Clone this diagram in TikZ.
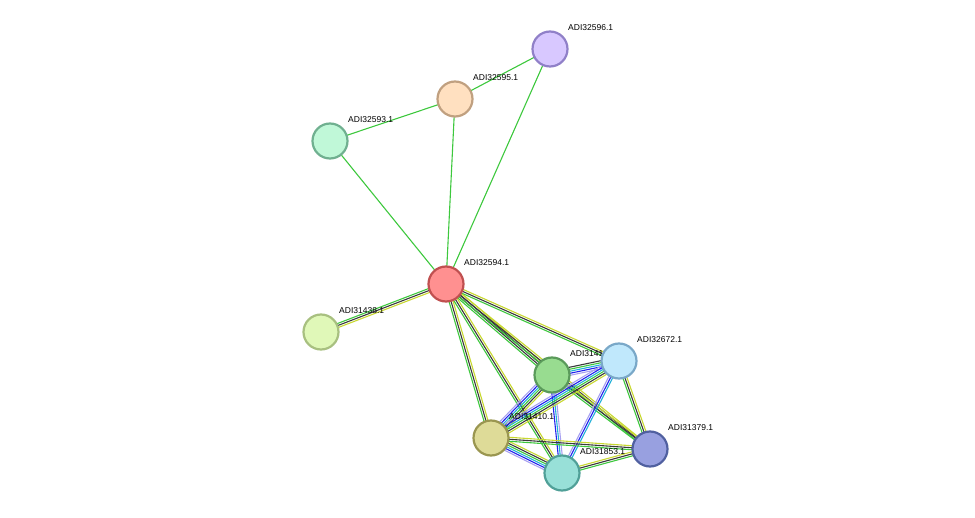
\documentclass[tikz,border=0pt]{standalone}
\usepackage{fontspec}
\setmainfont{Liberation Sans}
\usetikzlibrary{calc}
\definecolor{lgreen}{HTML}{3DC83D}
\definecolor{lyellow}{HTML}{C8D830}
\definecolor{lblack}{HTML}{3A3A3A}
\definecolor{lblue}{HTML}{2222EE}
\definecolor{lcyan}{HTML}{22B0D8}
\definecolor{llilac}{HTML}{A8A0F0}
\newcommand{\sedge}[3]{%
  \foreach \o/\c in {#3}
    \draw[link,\c] ($(#1)!\o pt!90:(#2)$) -- ($(#2)!\o pt!-90:(#1)$);}
\begin{document}
\begin{tikzpicture}[x=1pt,y=-1pt,
    prot/.style={circle, draw, line width=2.2pt, minimum size=35pt, inner sep=0pt},
    link/.style={line width=1.1pt},
    lab/.style={anchor=west, font=\fontsize{8.5pt}{10pt}\selectfont, inner sep=0pt},
  ]
  \useasboundingbox (0,0) rectangle (975,518);

  % Positions
  \coordinate (p596) at (550,49);
  \coordinate (p595) at (455,99);
  \coordinate (p593) at (330,141);
  \coordinate (p594) at (446,284);
  \coordinate (p438) at (321,332);
  \coordinate (p31x) at (552,375);
  \coordinate (p672) at (619,361);
  \coordinate (p410) at (491,438);
  \coordinate (p853) at (562,473);
  \coordinate (p379) at (650,449);

  % Links
  \sedge{p596}{p595}{0/lgreen}
  \sedge{p596}{p594}{0/lgreen}
  \sedge{p595}{p593}{0/lgreen}
  \sedge{p595}{p594}{0/lgreen}
  \sedge{p593}{p594}{0/lgreen}
  \sedge{p594}{p438}{-2/lgreen,0/lblack,2/lyellow}
  \sedge{p594}{p31x}{-3/lgreen,-1/lblack,1/lblack,3/lyellow}
  \sedge{p594}{p672}{-2/lgreen,0/lblack,2/lyellow}
  \sedge{p594}{p379}{-2/lgreen,0/lblack,2/lyellow}
  \sedge{p594}{p410}{-2/lgreen,0/lblack,2/lyellow}
  \sedge{p594}{p853}{-2/lgreen,0/lblack,2/lyellow}
  \sedge{p31x}{p672}{-4/llilac,-2/lblue,0/lcyan,2/lgreen,4/lblack}
  \sedge{p31x}{p410}{-5/llilac,-3/lblue,-1/lcyan,1/lgreen,3/lblack,5/lyellow}
  \sedge{p31x}{p853}{-2/lblue,0/lcyan,2/llilac}
  \sedge{p31x}{p379}{-2/lgreen,0/lblack,2/lyellow}
  \sedge{p672}{p410}{-5/llilac,-3/lblue,-1/lcyan,1/lgreen,3/lblack,5/lyellow}
  \sedge{p672}{p853}{-2/llilac,0/lblue,2/lcyan}
  \sedge{p672}{p379}{-2/lgreen,0/lblack,2/lyellow}
  \sedge{p410}{p853}{-5/llilac,-3/lblue,-1/lcyan,1/lgreen,3/lblack,5/lyellow}
  \sedge{p410}{p379}{-2/lgreen,0/lblack,2/lyellow}
  \sedge{p853}{p379}{-2/lgreen,0/lblack,2/lyellow}

  % Labels
  \node[lab] (t596) at ($(p596)+(18,-21)$) {ADI32596.1};
  \node[lab] (t595) at ($(p595)+(18,-21)$) {ADI32595.1};
  \node[lab] (t593) at ($(p593)+(18,-21)$) {ADI32593.1};
  \node[lab] (t594) at ($(p594)+(18,-21)$) {ADI32594.1};
  \node[lab] (t438) at ($(p438)+(18,-21)$) {ADI31438.1};
  \node[lab] (t31x) at ($(p31x)+(18,-21)$) {ADI31411.1};
  \node[lab] (t672) at ($(p672)+(18,-21)$) {ADI32672.1};
  \node[lab] (t410) at ($(p410)+(18,-21)$) {ADI31410.1};
  \node[lab] (t853) at ($(p853)+(18,-21)$) {ADI31853.1};
  \node[lab] (t379) at ($(p379)+(18,-21)$) {ADI31379.1};

  % Proteins
  \node[prot, fill={rgb,255:red,216;green,200;blue,255}, draw={rgb,255:red,144;green,128;blue,200}] (n596) at (p596) {};
  \node[prot, fill={rgb,255:red,255;green,224;blue,192}, draw={rgb,255:red,192;green,160;blue,128}] (n595) at (p595) {};
  \node[prot, fill={rgb,255:red,192;green,248;blue,216}, draw={rgb,255:red,112;green,176;blue,144}] (n593) at (p593) {};
  \node[prot, fill={rgb,255:red,255;green,144;blue,144}, draw={rgb,255:red,192;green,80;blue,80}] (n594) at (p594) {};
  \node[prot, fill={rgb,255:red,224;green,248;blue,184}, draw={rgb,255:red,168;green,192;blue,128}] (n438) at (p438) {};
  \node[prot, fill={rgb,255:red,152;green,220;blue,144}, draw={rgb,255:red,90;green,154;blue,90}] (n31x) at (p31x) {};
  \node[prot, fill={rgb,255:red,192;green,232;blue,252}, draw={rgb,255:red,122;green,168;blue,200}] (n672) at (p672) {};
  \node[prot, fill={rgb,255:red,222;green,219;blue,152}, draw={rgb,255:red,154;green,150;blue,80}] (n410) at (p410) {};
  \node[prot, fill={rgb,255:red,152;green,224;blue,216}, draw={rgb,255:red,80;green,160;blue,152}] (n853) at (p853) {};
  \node[prot, fill={rgb,255:red,152;green,160;blue,224}, draw={rgb,255:red,80;green,96;blue,160}] (n379) at (p379) {};
\end{tikzpicture}
\end{document}
